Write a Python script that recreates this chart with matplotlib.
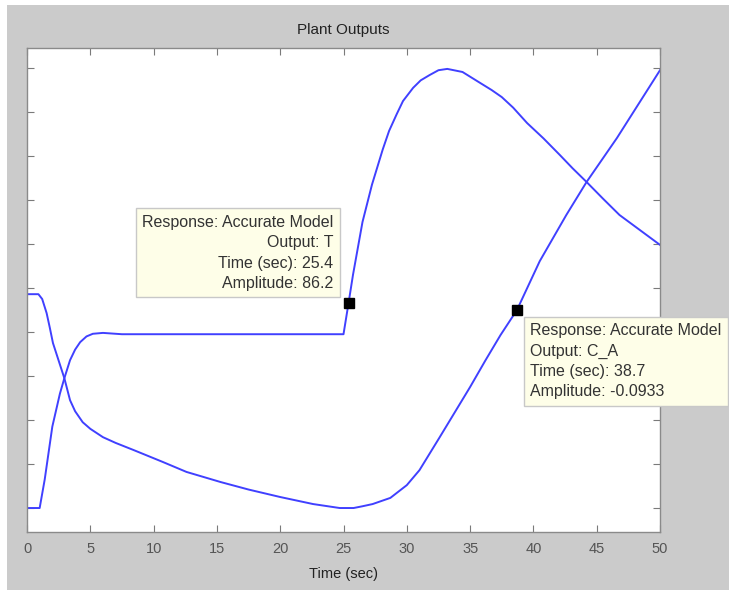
import numpy as np
import matplotlib
matplotlib.use("Agg")
import matplotlib.pyplot as plt
import matplotlib.patches as patches

plt.rcParams['font.family'] = ['Liberation Sans', 'DejaVu Sans']

# output T (starts low, jumps after t=25)
t_T = [0, 1.0, 1.4, 2.0, 2.6, 2.95, 3.4, 3.8, 4.2, 4.7, 5.2, 6.0, 7.5, 10, 15, 20, 25.0,
       25.4, 25.75, 26.5, 27.25, 28.1, 28.6, 29.2, 29.7, 30.5, 31.1, 31.8, 32.5, 33.2,
       34.4, 35.8, 36.7, 37.5, 38.4, 39.5, 40.8, 42.1, 43.1, 44.2, 45.5, 46.8, 48.4,
       49.2, 50]
y_T = [0, 0, 0.65, 1.85, 2.6, 2.95, 3.36, 3.6, 3.77, 3.9, 3.96, 3.98, 3.95, 3.95, 3.95,
       3.95, 3.95, 4.66, 5.3, 6.5, 7.35, 8.15, 8.57, 8.95, 9.25, 9.55, 9.72, 9.84, 9.95,
       9.98, 9.91, 9.66, 9.5, 9.34, 9.1, 8.75, 8.4, 8.02, 7.72, 7.41, 7.03, 6.66, 6.32,
       6.15, 5.98]

# output C_A (starts high, dips, then climbs)
t_CA = [0, 0.9, 1.2, 1.55, 1.8, 2.05, 2.5, 2.95, 3.4, 3.8, 4.4, 5.0, 6.0, 7.0, 8.4, 10.7,
        12.6, 15.3, 17.5, 20, 22.6, 24.7, 25.8, 26.5, 27.3, 28.7, 30.0, 31.0, 32.6,
        33.8, 35.0, 36.2, 37.4, 38.7, 40.5, 42.6, 44.2, 46.6, 50]
y_CA = [4.86, 4.86, 4.75, 4.43, 4.1, 3.75, 3.35, 2.95, 2.45, 2.2, 1.95, 1.8, 1.61, 1.48,
        1.32, 1.05, 0.82, 0.59, 0.42, 0.25, 0.09, 0.0, 0.0, 0.04, 0.09, 0.23, 0.52, 0.86,
        1.61, 2.18, 2.75, 3.35, 3.93, 4.5, 5.61, 6.66, 7.41, 8.41, 9.95]

# data tips
tip_T = 25.4
tip_CA = 38.7
tip_T_text = "Response: Accurate Model\nOutput: T\nTime (sec): 25.4\nAmplitude: 86.2"
tip_CA_text = "Response: Accurate Model\nOutput: C_A\nTime (sec): 38.7\nAmplitude: -0.0933"

xticks = np.arange(0, 51, 5)
yticks = np.arange(0, 11, 1)

W, H = 729, 590
fig = plt.figure(figsize=(W / 100, H / 100), dpi=100)
fig.patch.set_facecolor('white')
# grey panel (small white margin on left and top)
fig.patches.append(patches.Rectangle((7 / W, 0), 1 - 7 / W, 1 - 5 / H,
                                     transform=fig.transFigure,
                                     facecolor='#cbcbcb', edgecolor='none', zorder=-10))

ax = fig.add_axes([27 / W, (H - 532) / H, (660 - 27) / W, (532 - 48) / H])
ax.set_facecolor('white')

line_col = '#4040ff'
ax.plot(t_T, y_T, color=line_col, lw=1.4)
ax.plot(t_CA, y_CA, color=line_col, lw=1.4)

ax.set_xlim(0, 50)
ax.set_ylim(-0.545, 10.455)
ax.set_xticks(xticks)
ax.set_yticks(yticks)
ax.set_yticklabels([])
ax.tick_params(direction='in', length=5, width=0.8, color='#7a7a7a',
               top=True, right=True, labelsize=10.5, labelcolor='#555555', pad=7)
for s in ax.spines.values():
    s.set_color('#8a8a8a')
    s.set_linewidth(1.0)

ax.set_title("Plant Outputs", fontsize=11, pad=10, color='#222222')
ax.set_xlabel("Time (sec)", fontsize=10.5, labelpad=8, color='#222222')

box = dict(boxstyle='square,pad=0.4', facecolor='#fefee8', edgecolor='#c8c8c8', lw=1)

yT = np.interp(tip_T, t_T, y_T)
ax.plot(tip_T, yT, 's', color='black', ms=6.5, zorder=5)
ax.annotate(tip_T_text, xy=(tip_T, yT), xytext=(-15, 12), textcoords='offset pixels',
            ha='right', va='bottom', multialignment='right', fontsize=11.5,
            linespacing=1.45, color='#333333', bbox=box, zorder=6)

yCA = np.interp(tip_CA, t_CA, y_CA)
ax.plot(tip_CA, yCA, 's', color='black', ms=6.5, zorder=5)
ax.annotate(tip_CA_text, xy=(tip_CA, yCA), xytext=(13, -13), textcoords='offset pixels',
            ha='left', va='top', multialignment='left', fontsize=11.5,
            linespacing=1.45, color='#333333', bbox=box, zorder=6)

fig.savefig("out.png", dpi=100)
